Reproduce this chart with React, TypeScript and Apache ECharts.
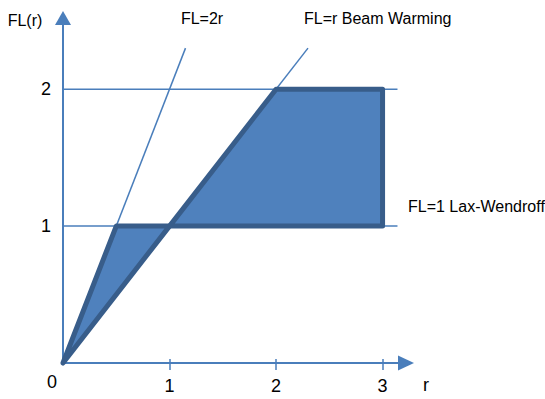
import React, { useEffect, useRef } from "react";
import * as echarts from "echarts";

// Tick values shown on the axes
const xTickValues = [1, 2, 3];
const yTickValues = [1, 2];

// TVD (Sweby) region polygons, in (r, FL) coordinates
const lowerRegion = [
  [0, 0],
  [0.5, 1],
  [1, 1],
];
const upperRegion = [
  [1, 1],
  [2, 2],
  [3, 2],
  [3, 1],
];

// Reference limiter lines
const lineFL2r = [
  [0, 0],
  [1.15, 2.3],
];
const lineFLr = [
  [0, 0],
  [2.3, 2.3],
];
const lineFL1 = [
  [0, 1],
  [3.14, 1],
];
const lineFL2 = [
  [0, 2],
  [3.14, 2],
];

// Texts
const yAxisTitle = "FL(r)";
const xAxisTitle = "r";
const originLabel = "0";
const annotationTexts = ["FL=2r", "FL=r Beam Warming", "FL=1 Lax-Wendroff"];

const BLUE = "#4a7ebb";
const FILL = "#4f81bd";
const EDGE = "#385d8a";
const FONT = "Liberation Sans, Arial, sans-serif";

export default function App() {
  const ref = useRef<HTMLDivElement>(null);

  useEffect(() => {
    if (!ref.current) return;
    const chart = echarts.init(ref.current, null, { renderer: "svg" });
    const regions = [lowerRegion, upperRegion];

    const thinLine = (data: number[][]) => ({
      type: "line",
      data,
      symbol: "none",
      lineStyle: { color: BLUE, width: 1.5 },
      z: 1,
      silent: true,
    });

    const xBase = {
      type: "value",
      min: 0,
      max: 3.22,
      interval: 1,
      position: "bottom",
      splitLine: { show: false },
    };

    chart.setOption({
      animation: false,
      grid: { left: 63, right: 139, top: 18, bottom: 36 },
      xAxis: [
        {
          ...xBase,
          axisLine: {
            onZero: false,
            lineStyle: { color: BLUE, width: 2 },
            symbol: ["none", "triangle"],
            symbolSize: [15, 16],
          },
          axisTick: {
            show: true,
            customValues: xTickValues,
            length: 7,
            lineStyle: { color: BLUE, width: 1.5 },
          },
          axisLabel: {
            customValues: xTickValues,
            color: "#000",
            fontSize: 18,
            fontFamily: FONT,
            margin: 14,
          },
        },
        {
          ...xBase,
          offset: 0,
          axisLine: { show: false },
          axisTick: {
            show: true,
            inside: true,
            customValues: xTickValues,
            length: 4,
            lineStyle: { color: BLUE, width: 1.5 },
          },
          axisLabel: { show: false },
        },
      ],
      yAxis: {
        type: "value",
        min: 0,
        max: 2.52,
        interval: 1,
        splitLine: { show: false },
        axisLine: {
          show: true,
          onZero: false,
          lineStyle: { color: BLUE, width: 2 },
          symbol: ["none", "triangle"],
          symbolSize: [16, 14],
        },
        axisTick: { show: false },
        axisLabel: {
          customValues: yTickValues,
          color: "#000",
          fontSize: 18,
          fontFamily: FONT,
          margin: 12,
        },
      },
      series: [
        thinLine(lineFL1),
        thinLine(lineFL2),
        thinLine(lineFL2r),
        thinLine(lineFLr),
        {
          type: "custom",
          z: 5,
          silent: true,
          data: regions.map((_, i) => [i]),
          renderItem: (params: any, api: any) => {
            const pts = regions[params.dataIndex].map((p) => api.coord(p));
            return {
              type: "polygon",
              shape: { points: pts },
              style: {
                fill: FILL,
                stroke: EDGE,
                lineWidth: 5,
                lineJoin: "round",
              },
            };
          },
        },
      ],
      graphic: [
        {
          type: "text",
          x: 25,
          y: 20,
          style: { text: yAxisTitle, font: `16px ${FONT}`, fill: "#000", align: "center", verticalAlign: "middle" },
        },
        {
          type: "text",
          x: 426,
          y: 385,
          style: { text: xAxisTitle, font: `18px ${FONT}`, fill: "#000", align: "center", verticalAlign: "middle" },
        },
        {
          type: "text",
          x: 52,
          y: 382,
          style: { text: originLabel, font: `18px ${FONT}`, fill: "#000", align: "center", verticalAlign: "middle" },
        },
        {
          type: "text",
          x: 202,
          y: 18,
          style: { text: annotationTexts[0], font: `16px ${FONT}`, fill: "#000", align: "center", verticalAlign: "middle" },
        },
        {
          type: "text",
          x: 304,
          y: 18,
          style: { text: annotationTexts[1], font: `16px ${FONT}`, fill: "#000", align: "left", verticalAlign: "middle" },
        },
        {
          type: "text",
          x: 408,
          y: 206,
          style: { text: annotationTexts[2], font: `16px ${FONT}`, fill: "#000", align: "left", verticalAlign: "middle" },
        },
      ],
    });

    return () => chart.dispose();
  }, []);

  return (
    <div
      ref={ref}
      style={{ position: "fixed", left: 0, top: 0, width: 545, height: 399, background: "#fff" }}
    />
  );
}
